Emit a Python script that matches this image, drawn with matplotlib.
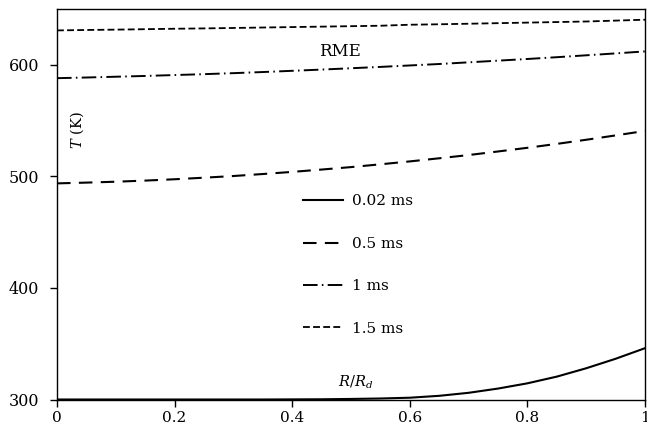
import matplotlib
matplotlib.use("Agg")
import matplotlib.pyplot as plt

plt.rcParams['font.family'] = ['DejaVu Serif']
plt.rcParams['mathtext.fontset'] = 'dejavuserif'

x = [0.0, 0.05, 0.1, 0.15, 0.2, 0.25, 0.3, 0.35, 0.4, 0.45, 0.5, 0.55, 0.6, 0.65, 0.7, 0.75, 0.8, 0.85, 0.9, 0.95, 1.0]
t_002 = [300.0, 300.0, 300.0, 300.0, 300.0, 300.0, 300.0, 300.0, 300.1, 300.2, 300.5, 300.9, 301.6, 303.3, 306.0, 309.8, 314.5, 320.5, 328.0, 336.5, 346.0]
t_05 = [493.7, 494.4, 495.2, 496.2, 497.4, 498.8, 500.3, 502.1, 504.0, 506.1, 508.3, 510.8, 513.4, 516.2, 519.1, 522.3, 525.6, 529.1, 532.8, 536.7, 540.7]
t_1 = [588.0, 588.6, 589.3, 590.0, 590.8, 591.6, 592.5, 593.5, 594.6, 595.7, 596.9, 598.1, 599.4, 600.7, 602.2, 603.7, 605.2, 606.8, 608.5, 610.2, 612.0]
t_15 = [630.8, 631.2, 631.5, 631.9, 632.3, 632.6, 633.0, 633.4, 633.8, 634.2, 634.6, 635.0, 635.9, 636.3, 636.8, 637.3, 637.8, 638.3, 638.8, 639.6, 640.4]
labels = ["0.02 ms", "0.5 ms", "1 ms", "1.5 ms"]
xticks = [0, 0.2, 0.4, 0.6, 0.8, 1]
xticklabels = ["0", "0.2", "0.4", "0.6", "0.8", "1"]
yticks = [300, 400, 500, 600]

fig = plt.figure(figsize=(6.47, 4.30), dpi=100)
ax = fig.add_axes([57/647, 1 - 399.5/430, 588/647, 390.5/430])

ax.plot(x, t_002, color='black', lw=1.5, label=labels[0])
ax.plot(x, t_05, color='black', lw=1.5, dashes=(6.5, 4.0), label=labels[1])
ax.plot(x, t_1, color='black', lw=1.4, dashes=(7.5, 2.2, 0.8, 2.2), label=labels[2])
ax.plot(x, t_15, color='black', lw=1.3, dashes=(3.8, 1.8), label=labels[3])

ax.set_xlim(0, 1)
ax.set_ylim(300, 650)
ax.set_xticks(xticks)
ax.set_xticklabels(xticklabels)
ax.set_yticks(yticks)
ax.tick_params(axis='both', direction='out', length=5, width=1, labelsize=11.5)
ax.tick_params(axis='y', pad=8)
ax.tick_params(axis='x', pad=3, labelsize=11)
for s in ax.spines.values():
    s.set_linewidth(1.0)

ax.text(0.035, 0.69, r"$T$ (K)", transform=ax.transAxes, rotation=90,
        ha='center', va='center', fontsize=10.5)
ax.text(0.508, 0.045, r"$R/R_d$", transform=ax.transAxes,
        ha='center', va='center', fontsize=10.5)
ax.text(0.481, 0.89, "RME", transform=ax.transAxes,
        ha='center', va='center', fontsize=12)

ax.legend(loc='upper left', bbox_to_anchor=(0.418, 0.525), frameon=False,
          fontsize=11, handlelength=2.6, handletextpad=0.6, labelspacing=1.86,
          borderaxespad=0, borderpad=0)

fig.savefig("out.png", dpi=100)
